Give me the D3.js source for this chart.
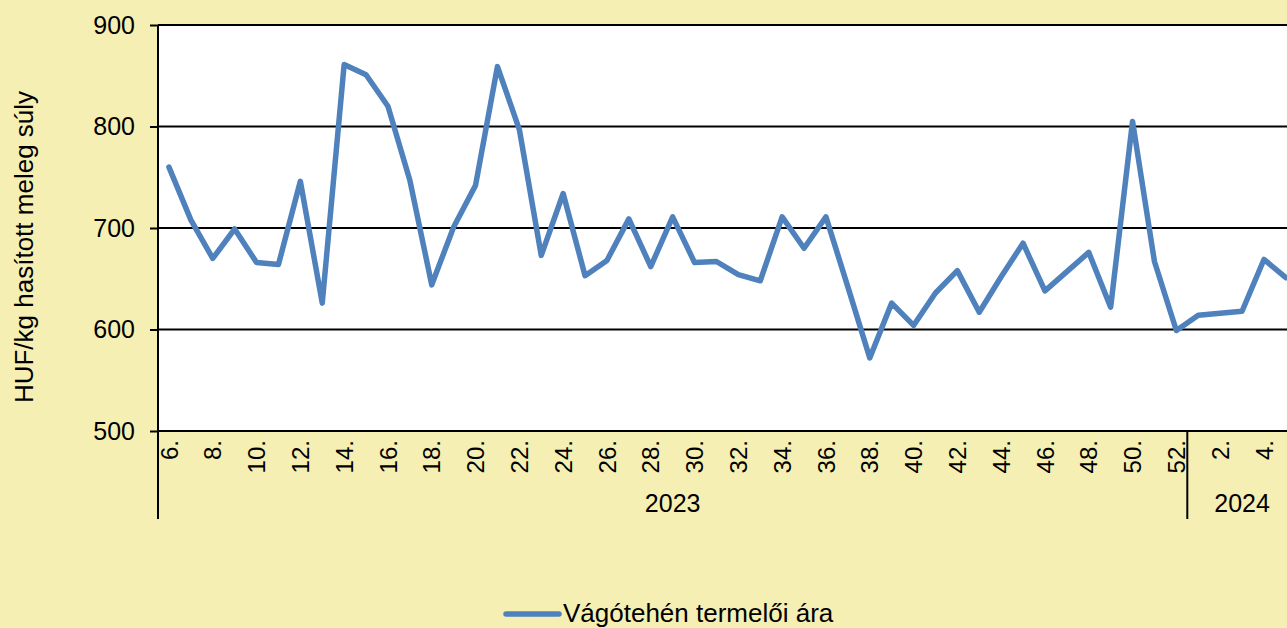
<!DOCTYPE html>
<html>
<head>
<meta charset="utf-8">
<script src="https://cdn.jsdelivr.net/npm/d3@7/dist/d3.min.js"></script>
<style>
  html, body { margin: 0; padding: 0; background: #F5EFB3; }
  svg { display: block; font-family: "Liberation Sans", Arial, sans-serif; }
</style>
</head>
<body>
<svg id="chart" width="1287" height="628"></svg>
<script>
// Data
const weeks2023 = [6,7,8,9,10,11,12,13,14,15,16,17,18,19,20,21,22,23,24,25,26,27,28,29,30,31,32,33,34,35,36,37,38,39,40,41,42,43,44,45,46,47,48,49,50,51,52];
const weeks2024 = [1,2,3,4,5];
const values2023 = [760,708,670,699,666,664,746,626,861,851,820,747,644,701,742,859,797,673,734,653,668,709,662,711,666,667,654,648,711,680,711,642,572,626,604,636,658,617,652,685,638,657,676,622,805,667,599];
const values2024 = [614,616,618,669,651];
const yTicks = [500,600,700,800,900];
const years = ["2023","2024"];
const seriesName = "Vágótehén termelői ára";
const yTitle = "HUF/kg hasított meleg súly";

const rows = [
  ...weeks2023.map((w,i)=>({year:"2023", week:w, key:"2023-"+w, value:values2023[i]})),
  ...weeks2024.map((w,i)=>({year:"2024", week:w, key:"2024-"+w, value:values2024[i]}))
];

const svg = d3.select("#chart");
const pLeft = 158, pTop = 25, pBottom = 431, bw = 21.9;
const pRight = pLeft + rows.length * bw;
const FONT = "Liberation Sans, Arial, sans-serif";

const x = d3.scaleBand().domain(rows.map(d=>d.key)).range([pLeft, pRight]).paddingInner(0).paddingOuter(0);
const y = d3.scaleLinear().domain([500,900]).range([pBottom, pTop]);

// plot background
svg.append("rect").attr("x", pLeft).attr("y", pTop).attr("width", pRight-pLeft).attr("height", pBottom-pTop).attr("fill", "#ffffff");

// gridlines
svg.append("g").selectAll("line").data(yTicks).join("line")
  .attr("x1", pLeft).attr("x2", pRight)
  .attr("y1", d=>y(d)).attr("y2", d=>y(d))
  .attr("stroke", "#000").attr("stroke-width", 2);

// y axis
const yAxis = d3.axisLeft(y).tickValues(yTicks).tickSize(8).tickPadding(15);
const gy = svg.append("g").attr("transform", `translate(${pLeft},0)`).call(yAxis);
gy.attr("font-size", 25).attr("font-family", FONT);
gy.select(".domain").remove();
gy.selectAll(".tick line").attr("stroke", "#000").attr("stroke-width", 2);
gy.selectAll(".tick text").attr("fill", "#000");
svg.append("line").attr("x1", pLeft).attr("x2", pLeft).attr("y1", pTop).attr("y2", 519).attr("stroke", "#000").attr("stroke-width", 2);

// x week labels (even weeks)
svg.append("g").selectAll("text").data(rows.filter(d=>d.week % 2 === 0)).join("text")
  .attr("transform", d=>`translate(${x(d.key)+x.bandwidth()/2},440) rotate(-90)`)
  .attr("text-anchor", "end").attr("dy", "0.36em")
  .attr("font-size", 24).attr("fill", "#000")
  .text(d=>d.week + ".");

// year separators and labels
years.forEach((yr, i) => {
  const ks = rows.filter(d=>d.year===yr).map(d=>d.key);
  const x0 = x(ks[0]), x1 = x(ks[ks.length-1]) + x.bandwidth();
  if (i > 0) {
    svg.append("line").attr("x1", x0).attr("x2", x0).attr("y1", pBottom).attr("y2", 519)
      .attr("stroke", "#000").attr("stroke-width", 2);
  }
  svg.append("text").attr("x", (x0+x1)/2).attr("y", 512).attr("text-anchor", "middle")
    .attr("font-size", 25).attr("fill", "#000").text(yr);
});

// x axis line
svg.append("line").attr("x1", pLeft).attr("x2", pRight).attr("y1", pBottom).attr("y2", pBottom).attr("stroke", "#000").attr("stroke-width", 2);

// series line
const line = d3.line().x(d=>x(d.key)+x.bandwidth()/2).y(d=>y(d.value));
svg.append("path").datum(rows).attr("d", line)
  .attr("fill", "none").attr("stroke", "#4F81BD").attr("stroke-width", 5.5)
  .attr("stroke-linejoin", "round").attr("stroke-linecap", "round");

// y title
svg.append("text").attr("transform", "translate(33,247) rotate(-90)")
  .attr("text-anchor", "middle").attr("font-size", 26).attr("fill", "#000").text(yTitle);

// legend
svg.append("line").attr("x1", 506).attr("x2", 559).attr("y1", 614).attr("y2", 614)
  .attr("stroke", "#4F81BD").attr("stroke-width", 5.5).attr("stroke-linecap", "round");
svg.append("text").attr("x", 563).attr("y", 622).attr("font-size", 26).attr("fill", "#000").text(seriesName);
</script>
</body>
</html>
